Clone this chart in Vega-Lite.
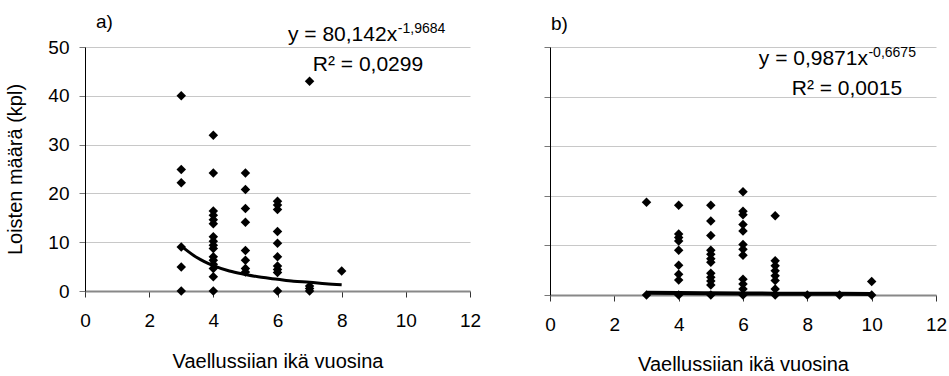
{
  "$schema": "https://vega.github.io/schema/vega-lite/v6.json",
  "background": "white",
  "padding": {"left": 5, "top": 13, "right": 5, "bottom": 0},
  "config": {
    "view": {"stroke": null},
    "font": "Liberation Sans",
    "axis": {
      "labelFont": "Liberation Sans",
      "titleFont": "Liberation Sans",
      "labelFontSize": 19,
      "titleFontSize": 20,
      "titleFontWeight": "normal",
      "labelColor": "#000",
      "titleColor": "#000",
      "labelFlush": false,
      "tickSize": 6,
      "gridColor": "#c8c8c8",
      "gridWidth": 1
    }
  },
  "datasets": {
    "a": [
      {"age": 3, "count": 40}, {"age": 3, "count": 24.9}, {"age": 3, "count": 22.2}, {"age": 3, "count": 9.0}, {"age": 3, "count": 4.9}, {"age": 3, "count": 0},
      {"age": 4, "count": 31.9}, {"age": 4, "count": 24.2}, {"age": 4, "count": 16.4}, {"age": 4, "count": 15.5}, {"age": 4, "count": 14.6}, {"age": 4, "count": 13.8}, {"age": 4, "count": 11.1}, {"age": 4, "count": 10.2}, {"age": 4, "count": 9.4}, {"age": 4, "count": 8.7}, {"age": 4, "count": 7.0}, {"age": 4, "count": 6.3}, {"age": 4, "count": 5.5}, {"age": 4, "count": 4.6}, {"age": 4, "count": 2.9}, {"age": 4, "count": 0},
      {"age": 5, "count": 24.2}, {"age": 5, "count": 20.8}, {"age": 5, "count": 16.9}, {"age": 5, "count": 14.1}, {"age": 5, "count": 8.3}, {"age": 5, "count": 6.3}, {"age": 5, "count": 4.6}, {"age": 5, "count": 3.9},
      {"age": 6, "count": 18.4}, {"age": 6, "count": 17.6}, {"age": 6, "count": 16.7}, {"age": 6, "count": 12.2}, {"age": 6, "count": 9.8}, {"age": 6, "count": 7.0}, {"age": 6, "count": 5.1}, {"age": 6, "count": 4.4}, {"age": 6, "count": 3.8}, {"age": 6, "count": 0},
      {"age": 7, "count": 43}, {"age": 7, "count": 1.0}, {"age": 7, "count": 0.5}, {"age": 7, "count": 0},
      {"age": 8, "count": 4.1}
    ],
    "ta": [
      {"age": 3, "count": 9.2}, {"age": 3.5, "count": 6.8}, {"age": 4, "count": 5.2}, {"age": 4.5, "count": 4.1}, {"age": 5, "count": 3.4}, {"age": 5.5, "count": 2.8}, {"age": 6, "count": 2.4}, {"age": 6.5, "count": 2.0}, {"age": 7, "count": 1.8}, {"age": 7.5, "count": 1.5}, {"age": 8, "count": 1.3}
    ],
    "b": [
      {"age": 3, "count": 18.7}, {"age": 3, "count": 0},
      {"age": 4, "count": 18.1}, {"age": 4, "count": 12.3}, {"age": 4, "count": 11.6}, {"age": 4, "count": 10.9}, {"age": 4, "count": 9.0}, {"age": 4, "count": 6.0}, {"age": 4, "count": 4.2}, {"age": 4, "count": 3.0}, {"age": 4, "count": 0},
      {"age": 5, "count": 18.1}, {"age": 5, "count": 14.9}, {"age": 5, "count": 12.0}, {"age": 5, "count": 9.0}, {"age": 5, "count": 8.2}, {"age": 5, "count": 7.3}, {"age": 5, "count": 6.6}, {"age": 5, "count": 4.4}, {"age": 5, "count": 3.6}, {"age": 5, "count": 2.8}, {"age": 5, "count": 2.0}, {"age": 5, "count": 0},
      {"age": 6, "count": 20.8}, {"age": 6, "count": 16.9}, {"age": 6, "count": 16.2}, {"age": 6, "count": 14.2}, {"age": 6, "count": 12.9}, {"age": 6, "count": 10.2}, {"age": 6, "count": 9.2}, {"age": 6, "count": 8.0}, {"age": 6, "count": 3.2}, {"age": 6, "count": 2.2}, {"age": 6, "count": 1.2}, {"age": 6, "count": 0},
      {"age": 7, "count": 16.0}, {"age": 7, "count": 6.9}, {"age": 7, "count": 5.9}, {"age": 7, "count": 4.9}, {"age": 7, "count": 3.9}, {"age": 7, "count": 2.9}, {"age": 7, "count": 1.2}, {"age": 7, "count": 0},
      {"age": 8, "count": 0}, {"age": 9, "count": 0},
      {"age": 10, "count": 2.7}, {"age": 10, "count": 0}
    ],
    "tb": [
      {"age": 3, "count": 0.47}, {"age": 4, "count": 0.39}, {"age": 5, "count": 0.34}, {"age": 6, "count": 0.30}, {"age": 7, "count": 0.27}, {"age": 8, "count": 0.25}, {"age": 9, "count": 0.23}, {"age": 10, "count": 0.21}
    ]
  },
  "spacing": 80,
  "bounds": "flush",
  "hconcat": [
    {
      "width": 385,
      "height": 244,
      "layer": [
        {
          "data": {"name": "a"},
          "mark": {"type": "point", "shape": "diamond", "filled": true, "color": "#000", "size": 90, "opacity": 1},
          "encoding": {
            "x": {"field": "age", "type": "quantitative", "scale": {"domain": [0, 12], "nice": false},
              "axis": {"title": "Vaellussiian ikä vuosina", "values": [0, 2, 4, 6, 8, 10, 12], "grid": false, "domainColor": "#888", "domainWidth": 2, "tickColor": "#333", "labelPadding": 14, "titlePadding": 21}},
            "y": {"field": "count", "type": "quantitative", "scale": {"domain": [0, 50], "nice": false},
              "axis": {"title": "Loisten määrä (kpl)", "values": [0, 10, 20, 30, 40, 50], "grid": true, "domainColor": "#000", "tickColor": "#777", "labelPadding": 10, "titlePadding": 22}}
          }
        },
        {
          "data": {"name": "ta"},
          "mark": {"type": "line", "color": "#000", "strokeWidth": 3, "interpolate": "monotone"},
          "encoding": {"x": {"field": "age", "type": "quantitative"}, "y": {"field": "count", "type": "quantitative"}}
        },
        {
          "data": {"values": [{}]},
          "mark": {"type": "text", "align": "right", "baseline": "alphabetic", "fontSize": 21, "color": "#000"},
          "encoding": {"x": {"datum": 9.73, "type": "quantitative"}, "y": {"datum": 51.2, "type": "quantitative"}, "text": {"value": "y = 80,142x"}}
        },
        {
          "data": {"values": [{}]},
          "mark": {"type": "text", "align": "left", "baseline": "alphabetic", "fontSize": 14, "color": "#000"},
          "encoding": {"x": {"datum": 9.75, "type": "quantitative"}, "y": {"datum": 52.8, "type": "quantitative"}, "text": {"value": "-1,9684"}}
        },
        {
          "data": {"values": [{}]},
          "mark": {"type": "text", "align": "center", "baseline": "alphabetic", "fontSize": 21, "color": "#000"},
          "encoding": {"x": {"datum": 8.82, "type": "quantitative"}, "y": {"datum": 45.1, "type": "quantitative"}, "text": {"value": "R² = 0,0299"}}
        },
        {
          "data": {"values": [{}]},
          "mark": {"type": "text", "align": "left", "baseline": "alphabetic", "fontSize": 19, "color": "#000"},
          "encoding": {"x": {"datum": 0.34, "type": "quantitative"}, "y": {"datum": 53.8, "type": "quantitative"}, "text": {"value": "a)"}}
        }
      ]
    },
    {
      "width": 386,
      "height": 248,
      "layer": [
        {
          "data": {"name": "b"},
          "mark": {"type": "point", "shape": "diamond", "filled": true, "color": "#000", "size": 90, "opacity": 1},
          "encoding": {
            "x": {"field": "age", "type": "quantitative", "scale": {"domain": [0, 12], "nice": false},
              "axis": {"title": "Vaellussiian ikä vuosina", "values": [0, 2, 4, 6, 8, 10, 12], "grid": false, "domainColor": "#888", "domainWidth": 2, "tickColor": "#333", "labelPadding": 14, "titlePadding": 20}},
            "y": {"field": "count", "type": "quantitative", "scale": {"domain": [0, 50], "nice": false},
              "axis": {"title": null, "labels": false, "values": [0, 10, 20, 30, 40, 50], "grid": true, "domainColor": "#000", "tickColor": "#777"}}
          }
        },
        {
          "data": {"name": "tb"},
          "mark": {"type": "line", "color": "#000", "strokeWidth": 4, "interpolate": "monotone"},
          "encoding": {"x": {"field": "age", "type": "quantitative"}, "y": {"field": "count", "type": "quantitative"}}
        },
        {
          "data": {"values": [{}]},
          "mark": {"type": "text", "align": "right", "baseline": "alphabetic", "fontSize": 21, "color": "#000"},
          "encoding": {"x": {"datum": 9.885, "type": "quantitative"}, "y": {"datum": 46.3, "type": "quantitative"}, "text": {"value": "y = 0,9871x"}}
        },
        {
          "data": {"values": [{}]},
          "mark": {"type": "text", "align": "left", "baseline": "alphabetic", "fontSize": 14, "color": "#000"},
          "encoding": {"x": {"datum": 9.9, "type": "quantitative"}, "y": {"datum": 47.9, "type": "quantitative"}, "text": {"value": "-0,6675"}}
        },
        {
          "data": {"values": [{}]},
          "mark": {"type": "text", "align": "center", "baseline": "alphabetic", "fontSize": 21, "color": "#000"},
          "encoding": {"x": {"datum": 9.23, "type": "quantitative"}, "y": {"datum": 40.3, "type": "quantitative"}, "text": {"value": "R² = 0,0015"}}
        },
        {
          "data": {"values": [{}]},
          "mark": {"type": "text", "align": "left", "baseline": "alphabetic", "fontSize": 19, "color": "#000"},
          "encoding": {"x": {"datum": 0.03, "type": "quantitative"}, "y": {"datum": 53.4, "type": "quantitative"}, "text": {"value": "b)"}}
        }
      ]
    }
  ]
}
